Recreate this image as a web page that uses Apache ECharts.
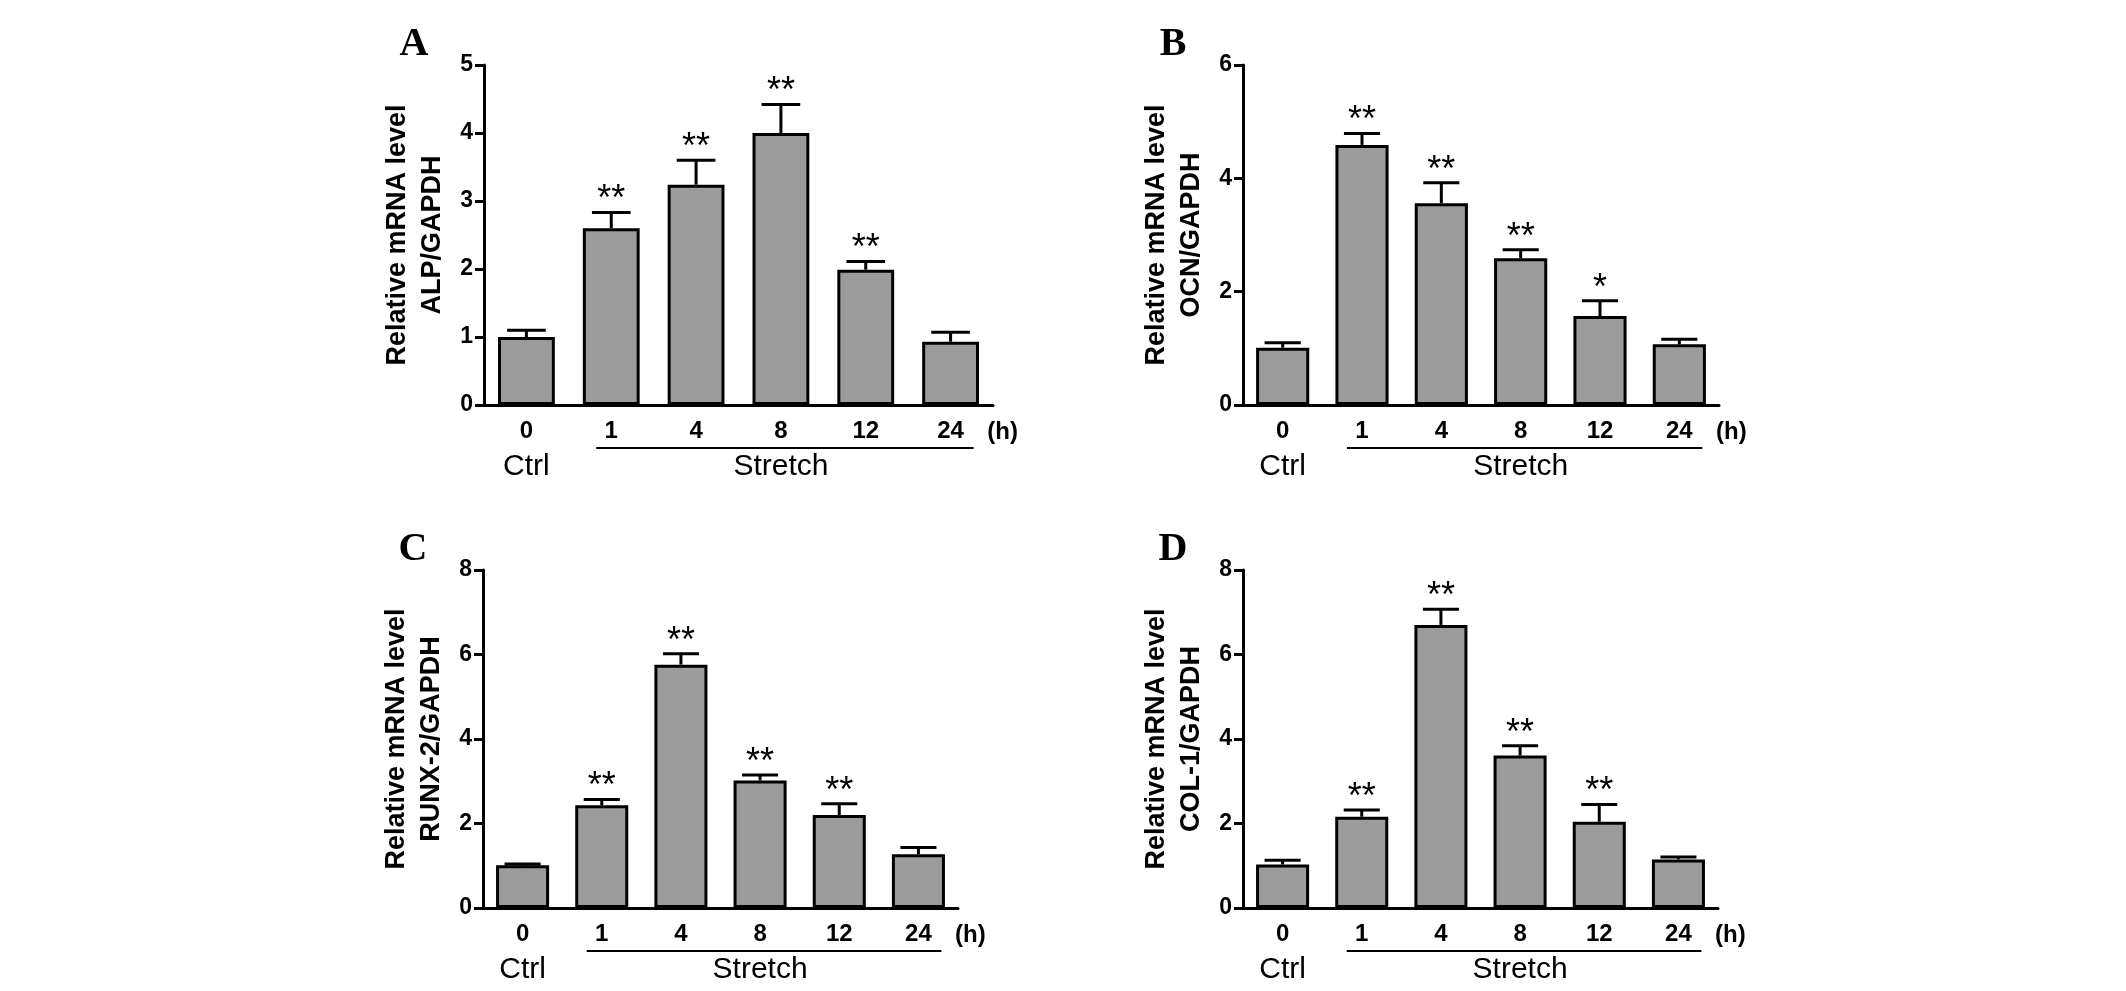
<!DOCTYPE html>
<html><head><meta charset="utf-8">
<script src="https://cdn.jsdelivr.net/npm/echarts@6/dist/echarts.min.js"></script>
<style>html,body{margin:0;padding:0;background:#fff}#c{width:2126px;height:991px}</style>
</head><body><div id="c"></div>
<script>
// ---- data ----
const categories = ['0', '1', '4', '8', '12', '24'];
const alpMean  = [1.00, 2.60, 3.24, 4.00, 1.99, 0.93];
const alpErr   = [0.10, 0.23, 0.36, 0.42, 0.12, 0.14];
const alpSig   = ['', '**', '**', '**', '**', ''];
const ocnMean  = [1.01, 4.59, 3.56, 2.59, 1.57, 1.07];
const ocnErr   = [0.09, 0.20, 0.36, 0.15, 0.27, 0.09];
const ocnSig   = ['', '**', '**', '**', '*', ''];
const runxMean = [1.01, 2.43, 5.76, 3.02, 2.20, 1.27];
const runxErr  = [0.03, 0.14, 0.26, 0.13, 0.27, 0.16];
const runxSig  = ['', '**', '**', '**', '**', ''];
const colMean  = [1.03, 2.16, 6.70, 3.61, 2.04, 1.15];
const colErr   = [0.10, 0.16, 0.37, 0.23, 0.41, 0.06];
const colSig   = ['', '**', '**', '**', '**', ''];
const yTicksA = [0, 5, 1];   // min, max, interval
const yTicksB = [0, 6, 2];
const yTicksC = [0, 8, 2];
const yTicksD = [0, 8, 2];

const SANS = '"Liberation Sans", Arial, sans-serif';
const SERIF = '"Liberation Serif", "Times New Roman", serif';

const panels = [
  {letter: 'A', gene: 'ALP/GAPDH',    mean: alpMean,  err: alpErr,  sig: alpSig,  ticks: yTicksA, grid: {left: 484, top: 65,  width: 509, height: 340}},
  {letter: 'B', gene: 'OCN/GAPDH',    mean: ocnMean,  err: ocnErr,  sig: ocnSig,  ticks: yTicksB, grid: {left: 1243, top: 65, width: 476, height: 340}},
  {letter: 'C', gene: 'RUNX-2/GAPDH', mean: runxMean, err: runxErr, sig: runxSig, ticks: yTicksC, grid: {left: 483, top: 570, width: 475, height: 338}},
  {letter: 'D', gene: 'COL-1/GAPDH',  mean: colMean,  err: colErr,  sig: colSig,  ticks: yTicksD, grid: {left: 1243, top: 570, width: 475, height: 338}}
];

const chart = echarts.init(document.getElementById('c'), null, {renderer: 'canvas'});

const grids = [], xAxes = [], yAxes = [], series = [];
panels.forEach((p, i) => {
  grids.push(Object.assign({containLabel: false}, p.grid));
  xAxes.push({
    type: 'category', gridIndex: i, data: categories,
    axisLine: {lineStyle: {color: '#000', width: 3}},
    axisTick: {alignWithLabel: true, length: 9, lineStyle: {color: '#000', width: 3}},
    axisLabel: {color: '#000', fontSize: 24, fontWeight: 'bold', fontFamily: SANS, margin: 14},
    splitLine: {show: false}
  });
  yAxes.push({
    type: 'value', gridIndex: i, min: p.ticks[0], max: p.ticks[1], interval: p.ticks[2],
    name: 'Relative mRNA level\n' + p.gene,
    nameLocation: 'middle', nameRotate: 90, nameGap: 34,
    nameTextStyle: {color: '#000', fontSize: 27, fontWeight: 'bold', fontFamily: SANS, lineHeight: 35, align: 'center'},
    axisLine: {show: true, lineStyle: {color: '#000', width: 3}},
    axisTick: {show: true, length: 9, lineStyle: {color: '#000', width: 3}},
    axisLabel: {color: '#000', fontSize: 23, fontWeight: 'bold', fontFamily: SANS, margin: 11},
    splitLine: {show: false}
  });
  series.push({
    type: 'bar', xAxisIndex: i, yAxisIndex: i, data: p.mean, barWidth: '67%',
    itemStyle: {color: '#9b9b9b', borderColor: '#000', borderWidth: 3},
    silent: true, animation: false
  });
  const sig = p.sig;
  series.push({
    type: 'custom', xAxisIndex: i, yAxisIndex: i, z: 5, silent: true, animation: false,
    encode: {x: 0, y: 1},
    data: p.mean.map((m, j) => [j, m, p.err[j]]),
    renderItem: function (params, api) {
      const x = api.value(0), m = api.value(1), e = api.value(2);
      const p0 = api.coord([x, m]);
      const p1 = api.coord([x, m + e]);
      const bw = api.size([1, 0])[0] * 0.67;
      const half = bw * 0.34;
      const children = [
        {type: 'line', shape: {x1: p0[0], y1: p0[1], x2: p1[0], y2: p1[1]}, style: {stroke: '#000', lineWidth: 3}},
        {type: 'line', shape: {x1: p1[0] - half, y1: p1[1], x2: p1[0] + half, y2: p1[1]}, style: {stroke: '#000', lineWidth: 3}}
      ];
      const s = sig[params.dataIndex];
      if (s) {
        children.push({type: 'text', style: {text: s, x: p1[0], y: p1[1] - 12, align: 'center', verticalAlign: 'middle',
          font: '36px ' + SANS, fill: '#000'}});
      }
      return {type: 'group', children: children};
    }
  });
});

chart.setOption({
  backgroundColor: '#fff',
  animation: false,
  grid: grids, xAxis: xAxes, yAxis: yAxes, series: series
});

// annotations placed via the chart's own scales
const graphics = [];
panels.forEach((p, i) => {
  const t0 = chart.convertToPixel({gridIndex: i}, [0, 0]);
  const t1 = chart.convertToPixel({gridIndex: i}, [1, 0]);
  const tl = chart.convertToPixel({gridIndex: i}, [categories.length - 1, 0]);
  const axisY = t0[1];
  graphics.push({type: 'line', shape: {x1: t1[0] - 15, y1: axisY + 43, x2: tl[0] + 23, y2: axisY + 43}, style: {stroke: '#000', lineWidth: 2}, silent: true});
  graphics.push({type: 'text', x: (t1[0] + tl[0]) / 2, y: axisY + 62, style: {text: 'Stretch', font: '30px ' + SANS, fill: '#000', align: 'center', verticalAlign: 'middle'}, silent: true});
  graphics.push({type: 'text', x: t0[0], y: axisY + 62, style: {text: 'Ctrl', font: '30px ' + SANS, fill: '#000', align: 'center', verticalAlign: 'middle'}, silent: true});
  graphics.push({type: 'text', x: tl[0] + 52, y: axisY + 27, style: {text: '(h)', font: 'bold 24px ' + SANS, fill: '#000', align: 'center', verticalAlign: 'middle'}, silent: true});
  graphics.push({type: 'text', x: p.grid.left - 70, y: p.grid.top - 20, style: {text: p.letter, font: 'bold 40px ' + SERIF, fill: '#000', align: 'center', verticalAlign: 'middle'}, silent: true});
});
chart.setOption({graphic: graphics});
</script>
</body></html>
